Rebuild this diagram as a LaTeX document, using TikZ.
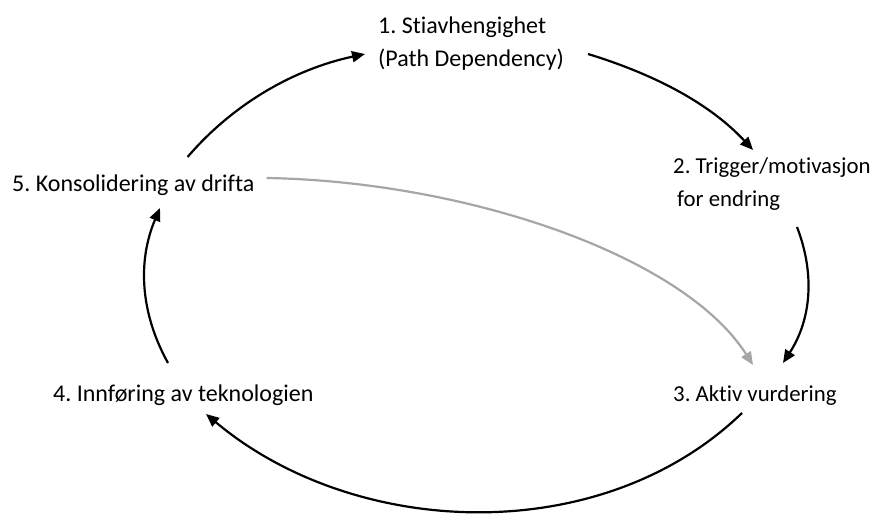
\documentclass[tikz,border=0pt]{standalone}
\usepackage{fontspec}
\setmainfont{Carlito}[Ligatures=NoCommon]
\frenchspacing
\usetikzlibrary{arrows.meta,positioning}

\begin{document}
\begin{tikzpicture}[
  x=1pt, y=1pt,
  every node/.style={font=\fontsize{24}{33}\selectfont, align=left, inner sep=0pt},
  stage/.style={anchor=base west},
  tight/.style={font=\fontsize{22.8}{33}\selectfont},
  flow/.style={line width=2.2pt, -{Triangle[length=13pt,width=11pt]}},
  back/.style={flow, draw=black!35}
]
\useasboundingbox[fill=white] (0,0) rectangle (870,516);

\node[stage] (path) at (378,449) {1. Stiavhengighet\\(Path Dependency)};
\node[stage, tight] (trigger) at (673,309) {2. Trigger/motivasjon\\\hspace*{4pt}for endring};
\node[stage, tight] (assess) at (673,114) {3. Aktiv vurdering};
\node[stage] (adopt) at (53,114) {4. Innføring av teknologien};
\node[stage] (consol) at (12,324) {5. Konsolidering av drifta};

\draw[flow] ([shift={(-67,35)}]consol.base east) .. controls +(46.6,54.4) and +(-69.4,-14.8) .. ([shift={(-13,13)}]path.base west);
\draw[flow] ([shift={(210,13)}]path.base west) .. controls +(63,-19.3) and +(-45,48.3) .. ([shift={(80,57)}]trigger.base west);
\draw[flow] ([shift={(124,-20)}]trigger.base west) .. controls +(18.4,-47.9) and +(27.9,43) .. ([shift={(110,39)}]assess.base west);
\draw[flow] ([shift={(69,-11)}]assess.base west) .. controls +(-140.3,-135.5) and +(149.4,-125.4) .. ([shift={(153,-12)}]adopt.base west);
\draw[flow] ([shift={(115,39)}]adopt.base west) .. controls +(-27.9,50.3) and +(-22.5,-52.9) .. ([shift={(148,-16)}]consol.base west);

\draw[back] ([shift={(12,14)}]consol.base east) .. controls +(200,-3.5) and +(-69.8,109.6) .. ([shift={(80,37)}]assess.base west);

\end{tikzpicture}
\end{document}
